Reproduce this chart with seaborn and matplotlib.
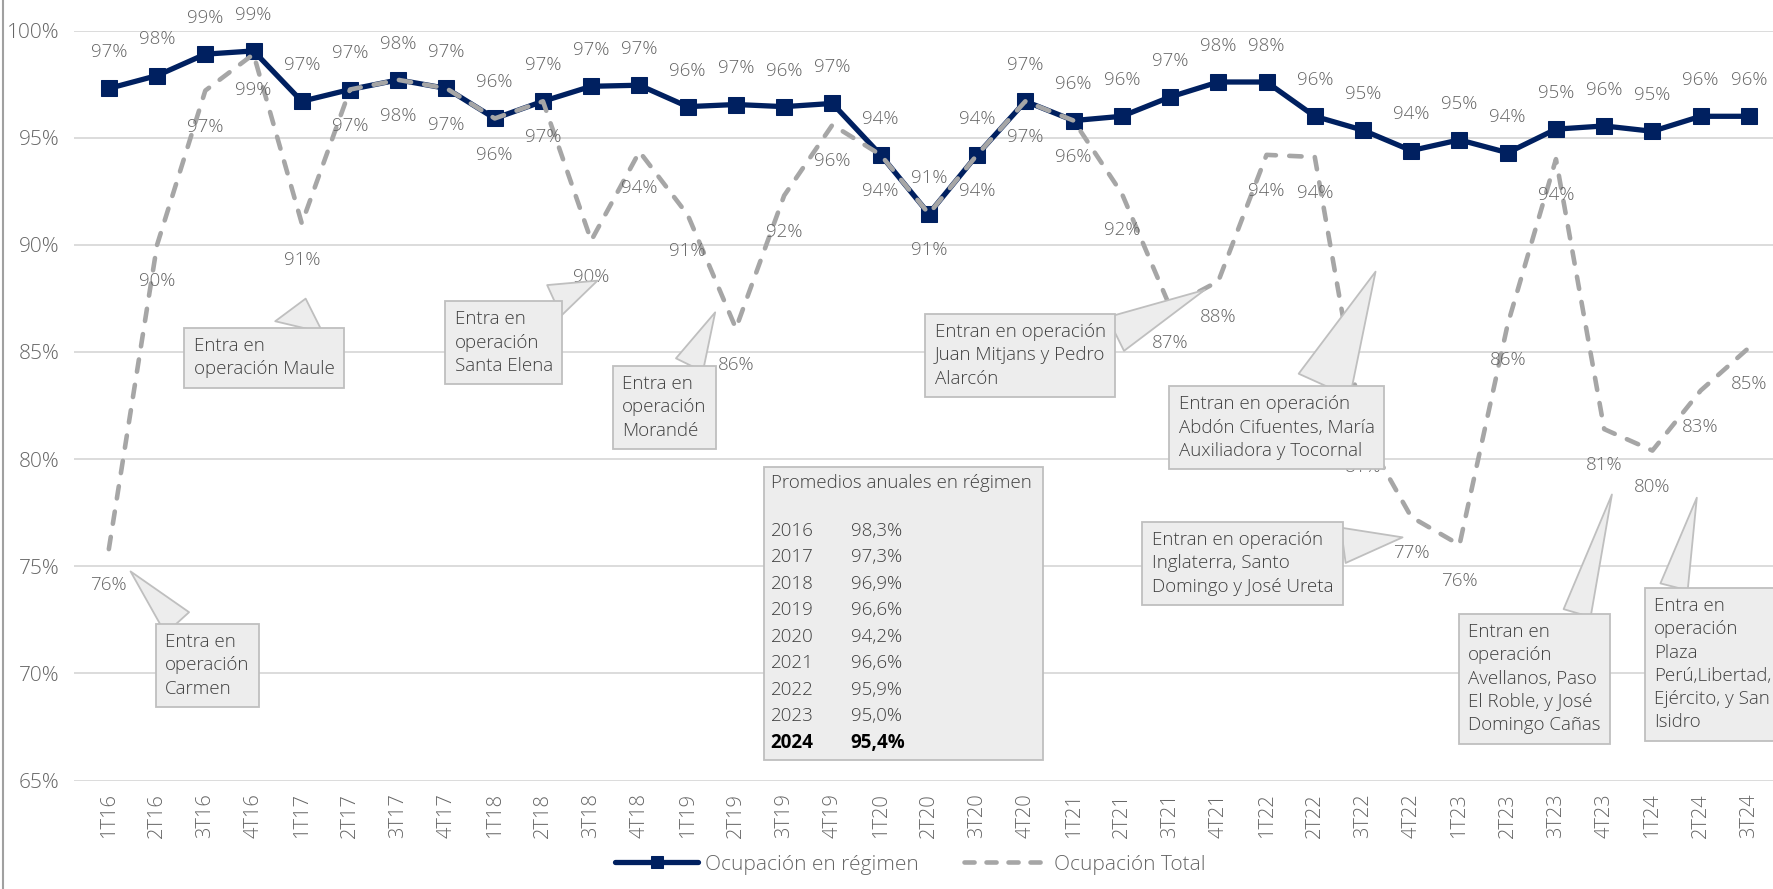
import numpy as np
import pandas as pd
import matplotlib
matplotlib.use("Agg")
import matplotlib.pyplot as plt
import seaborn as sns
from matplotlib.patches import Rectangle
from matplotlib.lines import Line2D

# ---------------- data ----------------
quarters = ["1T16", "2T16", "3T16", "4T16", "1T17", "2T17", "3T17", "4T17",
            "1T18", "2T18", "3T18", "4T18", "1T19", "2T19", "3T19", "4T19",
            "1T20", "2T20", "3T20", "4T20", "1T21", "2T21", "3T21", "4T21",
            "1T22", "2T22", "3T22", "4T22", "1T23", "2T23", "3T23", "4T23",
            "1T24", "2T24", "3T24"]
regimen = [97.3, 97.9, 98.9, 99.05, 96.7, 97.25, 97.7, 97.3,
           95.9, 96.7, 97.4, 97.45, 96.45, 96.55, 96.45, 96.6,
           94.2, 91.45, 94.2, 96.7, 95.8, 96.0, 96.9, 97.6,
           97.6, 96.0, 95.35, 94.4, 94.9, 94.3, 95.4, 95.55,
           95.3, 96.0, 96.0]
total = [75.8, 90.0, 97.2, 98.9, 91.0, 97.25, 97.7, 97.3,
         95.9, 96.7, 90.2, 94.35, 91.4, 86.1, 92.3, 95.6,
         94.2, 91.45, 94.2, 96.7, 95.8, 92.4, 87.1, 88.3,
         94.2, 94.1, 81.3, 77.3, 76.0, 86.3, 94.0, 81.4,
         80.4, 83.2, 85.2]
series_names = ["Ocupación en régimen", "Ocupación Total"]
avg_title = "Promedios anuales en régimen"
avg_years = ["2016", "2017", "2018", "2019", "2020", "2021", "2022", "2023", "2024"]
avg_values = [98.3, 97.3, 96.9, 96.6, 94.2, 96.6, 95.9, 95.0, 95.4]
y_ticks = [65, 70, 75, 80, 85, 90, 95, 100]

callout_texts = [
    "Entra en\noperación\nCarmen",
    "Entra en\noperación Maule",
    "Entra en\noperación\nSanta Elena",
    "Entra en\noperación\nMorandé",
    "Entran en operación\nJuan Mitjans y Pedro\nAlarcón",
    "Entran en operación\nAbdón Cifuentes, María\nAuxiliadora y Tocornal",
    "Entran en operación\nInglaterra, Santo\nDomingo y José Ureta",
    "Entran en\noperación\nAvellanos, Paso\nEl Roble, y José\nDomingo Cañas",
    "Entra en\noperación\nPlaza\nPerú,Libertad,\nEjército, y San\nIsidro",
]

# ---------------- style ----------------
sns.set_style("white")
plt.rcParams['font.family'] = ['Open Sans', 'DejaVu Sans']

NAVY = "#002060"
GREY = "#A6A6A6"
TXT = "#666666"
BOXFC = "#EDEDED"
BOXEC = "#BFBFBF"
FS = 13.5
FW = "light"

fig = plt.figure(figsize=(17.74, 8.89), dpi=100)
ax = fig.add_axes([0.0415, 0.122, 0.9585, 0.8436])

x = np.arange(len(quarters))
df = pd.DataFrame({"x": x, series_names[0]: regimen, series_names[1]: total})

sns.lineplot(data=df, x="x", y=series_names[0], ax=ax, color=NAVY, lw=3.8,
             marker="s", markersize=11, markeredgecolor=NAVY, markerfacecolor=NAVY,
             label=series_names[0], zorder=3)
sns.lineplot(data=df, x="x", y=series_names[1], ax=ax, color=GREY, lw=3.3,
             label=series_names[1], zorder=4)
tot_line = ax.get_lines()[-1]
tot_line.set_dashes((2.7, 2.9))
tot_line.set_dash_capstyle("round")

# data labels
for i, v in enumerate(regimen):
    ax.annotate(f"{v:.0f}%", (i, v), xytext=(0, 26), textcoords="offset points",
                ha="center", va="center", color=TXT, fontsize=FS, fontweight=FW,
                zorder=5)
for i, v in enumerate(total):
    ax.annotate(f"{v:.0f}%", (i, v), xytext=(0, -26), textcoords="offset points",
                ha="center", va="center", color=TXT, fontsize=FS, fontweight=FW,
                zorder=5)

# axes
ax.set_xlim(-0.73, 34.52)
ax.set_ylim(65, 100)
ax.set_yticks(y_ticks)
ax.set_yticklabels([f"{t}%" for t in y_ticks], color=TXT, fontsize=15,
                   fontweight=FW)
ax.set_xticks(x)
ax.set_xticklabels(quarters, rotation=90, color=TXT, fontsize=14.5,
                   fontweight=FW)
ax.tick_params(axis="both", length=0)
ax.tick_params(axis="y", pad=10)
ax.tick_params(axis="x", pad=9)
ax.set_xlabel("")
ax.set_ylabel("")
ax.grid(axis="y", color="#D9D9D9", lw=1.3)
ax.grid(axis="x", visible=False)
for s in ax.spines.values():
    s.set_visible(False)

# callouts (layout: text left x, text center y, tip x, tip y, tail width, relpos)
callout_layout = [
    (1.17, 70.38, 0.45, 74.76, 1.7, (0.25, 1.0)),
    (1.76, 84.74, 4.08, 87.49, 2.6, (0.73, 1.0)),
    (7.17, 85.43, 10.13, 88.33, 1.8, (0.79, 1.0)),
    (10.64, 82.42, 12.57, 86.85, 1.6, (0.74, 1.0)),
    (17.12, 84.85, 22.72, 87.9, 2.0, (1.0, 0.75)),
    (22.18, 81.47, 26.26, 88.75, 3.0, (0.72, 1.0)),
    (21.62, 75.13, 26.82, 76.35, 1.9, (1.0, 0.76)),
    (28.18, 69.75, 31.16, 78.35, 1.5, (0.8, 1.0)),
    (32.03, 70.43, 32.92, 78.2, 1.5, (0.15, 1.0)),
]
for txt, (tx, ty, px, py, tw, rp) in zip(callout_texts, callout_layout):
    ax.annotate(txt, xy=(px, py), xytext=(tx, ty), textcoords="data",
                ha="left", va="center", multialignment="left",
                fontsize=FS, fontweight=FW, color="#404040", zorder=6,
                linespacing=1.38,
                bbox=dict(boxstyle="square,pad=0.5", fc=BOXFC, ec=BOXEC, lw=1.3),
                arrowprops=dict(arrowstyle=f"wedge,tail_width={tw},shrink_factor=0.5",
                                fc=BOXFC, ec=BOXEC, lw=1.3, shrinkA=0, shrinkB=0,
                                relpos=rp),
                annotation_clip=False)

# annual averages box
ax.add_patch(Rectangle((13.58, 65.94), 19.37 - 13.58, 79.62 - 65.94,
                       fc=BOXFC, ec=BOXEC, lw=1.3, zorder=6))
ax.text(13.72, 78.88, avg_title, ha="left", va="center", fontsize=FS,
        fontweight=FW, color="#404040", zorder=7)
for k, (yr, val) in enumerate(zip(avg_years, avg_values)):
    yy = 76.66 - k * 1.236
    last = k == len(avg_years) - 1
    kw = dict(fontsize=FS, zorder=7, va="center", ha="left",
              color="black" if last else "#404040",
              fontweight="bold" if last else FW)
    ax.text(13.72, yy, yr, **kw)
    ax.text(15.38, yy, f"{val:.1f}%".replace(".", ","), **kw)

# legend
leg = ax.legend(loc="lower center", bbox_to_anchor=(0.513, -0.005),
                bbox_transform=fig.transFigure, ncol=2, frameon=False,
                prop=dict(size=15, weight=FW), handlelength=4.0,
                columnspacing=2.2, handletextpad=0.3)
for t in leg.get_texts():
    t.set_color(TXT)
lh = leg.legend_handles if hasattr(leg, "legend_handles") else leg.legendHandles
lh[0].set_markersize(8)
lh[1].set_dashes((2.2, 2.6))
lh[1].set_dash_capstyle("round")

# left border of the chart frame
fig.add_artist(Line2D([0.0015, 0.0015], [0, 1], color="#A0A0A0", lw=1.5,
                      transform=fig.transFigure))

fig.savefig("out.png", dpi=100)
